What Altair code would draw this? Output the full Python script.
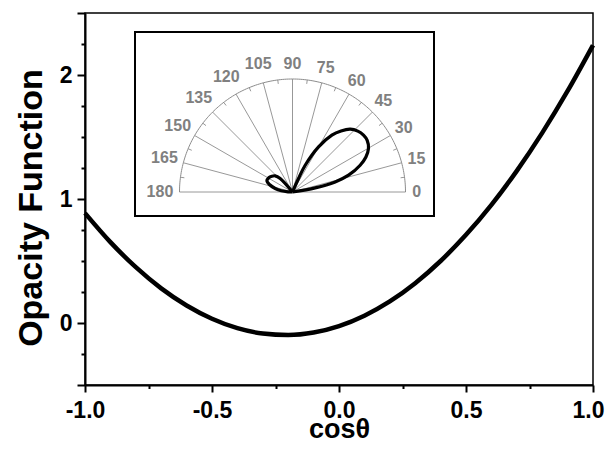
import altair as alt
import pandas as pd

# ---------------- main curve ----------------
cos_theta = [-1.0, -0.9, -0.8, -0.7, -0.6, -0.5, -0.4, -0.3, -0.2, -0.1, 0.0,
             0.1, 0.2, 0.3, 0.4, 0.5, 0.6, 0.7, 0.8, 0.9, 1.0]
opacity = [0.886, 0.652, 0.450, 0.279, 0.141, 0.034, -0.042, -0.085, -0.097, -0.077, -0.025,
           0.059, 0.174, 0.321, 0.500, 0.711, 0.953, 1.227, 1.533, 1.871, 2.240]

x_major = [-1.0, -0.5, 0.0, 0.5, 1.0]
x_minor = [-0.75, -0.25, 0.25, 0.75]
y_major = [-0.5, 0, 1, 2, 2.5]
y_minor = [-0.25, 0.25, 0.5, 0.75, 1.25, 1.5, 1.75, 2.25]

# ---------------- inset polar plot (angle in degrees, radius relative to outer arc) ----------------
lobe_fwd_angle = [8, 10.2, 13.3, 16.7, 21.6, 25.5, 29.8, 34.7, 38.7, 43, 47.4, 51.5, 55.3, 60, 64.6, 66, 68]
lobe_fwd_r = [0, 0.204, 0.388, 0.518, 0.644, 0.72, 0.775, 0.804, 0.805, 0.79, 0.755, 0.69, 0.612, 0.461, 0.262, 0.131, 0]
lobe_back_angle = [126, 132.3, 137, 142.5, 149, 156.6, 162, 168.6, 174, 178, 180]
lobe_back_r = [0, 0.162, 0.21, 0.23, 0.245, 0.247, 0.215, 0.156, 0.10, 0.04, 0]

polar_angles = [0, 15, 30, 45, 60, 75, 90, 105, 120, 135, 150, 165, 180]
polar_labels = ["0", "15", "30", "45", "60", "75", "90", "105", "120", "135", "150", "165", "180"]
arc_tick_angles = [7.5, 22.5, 37.5, 52.5, 67.5, 82.5, 97.5, 112.5, 127.5, 142.5, 157.5, 172.5]
arc_angles = list(range(0, 181))

# ---------------- tables ----------------
curve_df = pd.DataFrame({"c": cos_theta, "f": opacity})
lobe_df = pd.DataFrame({
    "theta": lobe_fwd_angle + lobe_back_angle,
    "r": lobe_fwd_r + lobe_back_r,
    "part": ["fwd"] * len(lobe_fwd_angle) + ["back"] * len(lobe_back_angle),
})
lobe_df["i"] = range(len(lobe_df))
spoke_df = pd.DataFrame({"a": polar_angles, "lab": polar_labels})
tick_df = pd.DataFrame({"a": arc_tick_angles})
arc_df = pd.DataFrame({"a": arc_angles})
box_df = pd.DataFrame({"k": [0]})

W, H = 508, 372
GRAY = "#8c8c8c"
LABEL_GRAY = "#808080"
FONT = "Arial"

xs = alt.Scale(domain=[-1, 1], nice=False, zero=False)
ys = alt.Scale(domain=[-0.5, 2.5], nice=False, zero=False)

# inset scales: polar centre and radius placed inside the plot area
CX, CY, R = 207.5, 179, 113
xin = alt.Scale(domain=[-1, 1], range=[CX - R, CX + R], nice=False, zero=False)
yin = alt.Scale(domain=[0, 1], range=[CY, CY - R], nice=False, zero=False)

minor = alt.Chart(curve_df).mark_point(opacity=0).encode(
    x=alt.X("c:Q", scale=xs, axis=alt.Axis(orient="bottom", values=x_minor, labels=False,
                                           domain=False, tickSize=3.5, title=None)),
    y=alt.Y("f:Q", scale=ys, axis=alt.Axis(orient="left", values=y_minor, labels=False,
                                           domain=False, tickSize=4, title=None)),
)

curve = alt.Chart(curve_df).mark_line(color="black", strokeWidth=4.5, interpolate="monotone").encode(
    x=alt.X("c:Q", scale=xs, axis=alt.Axis(
        orient="bottom", values=x_major, labelFlush=False, tickSize=7, labelPadding=7,
        labelExpr="datum.value < 0 ? '-' + format(-datum.value, '.1f') : format(datum.value, '.1f')",
        labelOffset={"condition": {"test": "datum.value == 1", "value": -5}, "value": 0},
        title="cosθ", titleFontSize=27, titlePadding=-5.3)),
    y=alt.Y("f:Q", scale=ys, axis=alt.Axis(
        orient="left", values=y_major, tickSize=8, labelPadding=5,
        labelExpr="(datum.value == 0 || datum.value == 1 || datum.value == 2) ? format(datum.value, 'd') : ''",
        title="Opacity Function", titleFontSize=34, titlePadding=11, titleY=194.5)),
)

box = alt.Chart(box_df).mark_rect(fill="white", stroke="black", strokeWidth=2).encode(
    x=alt.value(50), x2=alt.value(349), y=alt.value(19), y2=alt.value(203)
)

arc = alt.Chart(arc_df).transform_calculate(
    px="cos(datum.a*PI/180)", py="sin(datum.a*PI/180)"
).mark_line(color=GRAY, strokeWidth=1).encode(
    x=alt.X("px:Q", scale=xin, axis=None),
    y=alt.Y("py:Q", scale=yin, axis=None),
    order="a:Q",
)

spokes = alt.Chart(spoke_df).transform_calculate(
    x0="0", y0="0", x1="cos(datum.a*PI/180)", y1="sin(datum.a*PI/180)"
).mark_rule(color=GRAY, strokeWidth=0.9).encode(
    x=alt.X("x0:Q", scale=xin, axis=None),
    y=alt.Y("y0:Q", scale=yin, axis=None),
    x2="x1:Q", y2="y1:Q",
)

arc_ticks = alt.Chart(tick_df).transform_calculate(
    x0="0.965*cos(datum.a*PI/180)", y0="0.965*sin(datum.a*PI/180)",
    x1="cos(datum.a*PI/180)", y1="sin(datum.a*PI/180)"
).mark_rule(color=GRAY, strokeWidth=0.9).encode(
    x=alt.X("x0:Q", scale=xin, axis=None),
    y=alt.Y("y0:Q", scale=yin, axis=None),
    x2="x1:Q", y2="y1:Q",
)

labels = alt.Chart(spoke_df).transform_calculate(
    rr="1.062 + 0.037*length(datum.lab)",
    lx="datum.rr*cos(datum.a*PI/180)",
    ly="datum.rr*sin(datum.a*PI/180)",
).mark_text(font=FONT, fontSize=16, fontWeight="bold", color=LABEL_GRAY, align="center", baseline="middle").encode(
    x=alt.X("lx:Q", scale=xin, axis=None),
    y=alt.Y("ly:Q", scale=yin, axis=None),
    text="lab:N",
)

lobe = alt.Chart(lobe_df).transform_calculate(
    px="datum.r*cos(datum.theta*PI/180)", py="datum.r*sin(datum.theta*PI/180)"
).mark_line(color="black", strokeWidth=3.2, interpolate="catmull-rom").encode(
    x=alt.X("px:Q", scale=xin, axis=None),
    y=alt.Y("py:Q", scale=yin, axis=None),
    detail="part:N",
    order="i:Q",
)

chart = alt.layer(minor, curve, box, arc, spokes, arc_ticks, labels, lobe).resolve_scale(
    x="independent", y="independent"
).properties(
    width=W, height=H,
    autosize=alt.AutoSizeParams(type="none"),
    padding={"left": 77, "top": 5, "right": 12, "bottom": 59},
).configure_view(
    stroke="black", strokeWidth=1.5
).configure_axis(
    grid=False, domainColor="black", tickColor="black", domainWidth=2, tickWidth=2,
    labelFont=FONT, labelFontWeight="bold", labelFontSize=23, labelColor="black",
    titleFont=FONT, titleFontWeight="bold", titleColor="black",
)

chart.save("out.html", embed_options={"renderer": "svg", "actions": False})
